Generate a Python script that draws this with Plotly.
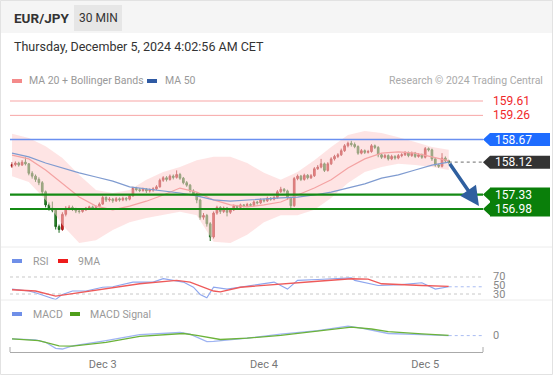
import plotly.graph_objects as go

# ---------------- data ----------------
first_open = 158.02
close = [158.06, 158.10, 158.05, 158.12, 158.08, 157.85, 157.78, 157.70, 157.62, 157.40,
         157.08, 157.00, 156.95, 156.55, 156.48, 156.85, 157.00, 157.02, 156.98, 156.93,
         156.92, 156.96, 157.00, 157.03, 157.01, 157.04, 157.10, 157.26, 157.20, 157.22,
         157.18, 157.23, 157.20, 157.24, 157.22, 157.30, 157.48, 157.45, 157.43, 157.46,
         157.42, 157.44, 157.47, 157.52, 157.68, 157.74, 157.70, 157.78, 157.75, 157.82,
         157.73, 157.62, 157.56, 157.42, 157.35, 157.20, 156.78, 156.82, 156.62, 156.30,
         156.88, 157.02, 156.92, 157.00, 156.90, 156.96, 157.05, 157.02, 157.08, 157.06,
         157.09, 157.07, 157.15, 157.13, 157.20, 157.18, 157.24, 157.22, 157.26, 157.40,
         157.46, 157.42, 157.25, 157.06, 157.72, 157.78, 157.70, 157.80, 157.74, 157.79,
         157.96, 158.00, 158.08, 157.92, 158.08, 158.20, 158.26, 158.30, 158.40, 158.52,
         158.58, 158.55, 158.50, 158.34, 158.40, 158.36, 158.38, 158.52, 158.48, 158.30,
         158.24, 158.28, 158.20, 158.26, 158.22, 158.28, 158.30, 158.35, 158.28, 158.34,
         158.26, 158.30, 158.24, 158.45, 158.42, 158.20, 158.05, 158.02, 158.22, 158.15,
         158.12]
high = [158.12, 158.14, 158.13, 158.17, 158.24, 158.10, 157.90, 157.82, 157.75, 157.66,
        157.43, 157.14, 157.16, 156.98, 156.60, 156.90, 157.05, 157.07, 157.06, 157.01,
        156.97, 157.00, 157.03, 157.06, 157.06, 157.07, 157.14, 157.30, 157.29, 157.27,
        157.25, 157.27, 157.26, 157.28, 157.27, 157.34, 157.52, 157.52, 157.49, 157.50,
        157.49, 157.48, 157.51, 157.56, 157.72, 157.78, 157.78, 157.82, 157.82, 157.92,
        157.86, 157.76, 157.66, 157.59, 157.46, 157.38, 157.23, 156.88, 156.86, 156.66,
        156.92, 157.06, 157.05, 157.04, 157.03, 157.00, 157.09, 157.08, 157.11, 157.10,
        157.13, 157.12, 157.19, 157.18, 157.24, 157.23, 157.28, 157.27, 157.30, 157.44,
        157.52, 157.49, 157.45, 157.28, 157.76, 157.82, 157.81, 157.84, 157.83, 157.83,
        158.00, 158.05, 158.20, 158.11, 158.12, 158.24, 158.30, 158.34, 158.45, 158.56,
        158.62, 158.64, 158.60, 158.53, 158.44, 158.43, 158.42, 158.56, 158.55, 158.51,
        158.33, 158.32, 158.31, 158.30, 158.29, 158.32, 158.34, 158.39, 158.38, 158.38,
        158.37, 158.34, 158.33, 158.49, 158.48, 158.45, 158.23, 158.08, 158.34, 158.26,
        158.18]
low = [157.98, 158.02, 158.01, 158.03, 158.04, 157.80, 157.72, 157.64, 157.56, 157.34,
       157.02, 156.94, 156.90, 156.48, 156.40, 156.45, 156.80, 156.95, 156.93, 156.88,
       156.87, 156.89, 156.93, 156.97, 156.97, 156.98, 157.02, 157.08, 157.15, 157.16,
       157.13, 157.15, 157.16, 157.17, 157.17, 157.19, 157.28, 157.41, 157.39, 157.40,
       157.37, 157.38, 157.40, 157.44, 157.50, 157.64, 157.65, 157.67, 157.70, 157.72,
       157.69, 157.58, 157.52, 157.38, 157.30, 157.12, 156.72, 156.72, 156.55, 156.20,
       156.26, 156.84, 156.86, 156.88, 156.80, 156.86, 156.93, 156.98, 156.99, 157.02,
       157.03, 157.03, 157.04, 157.09, 157.10, 157.14, 157.15, 157.18, 157.19, 157.23,
       157.37, 157.38, 157.20, 156.98, 157.03, 157.68, 157.66, 157.67, 157.70, 157.71,
       157.76, 157.93, 157.97, 157.88, 157.89, 158.05, 158.16, 158.22, 158.27, 158.37,
       158.48, 158.50, 158.46, 158.30, 158.31, 158.32, 158.33, 158.35, 158.44, 158.24,
       158.20, 158.21, 158.16, 158.17, 158.18, 158.19, 158.24, 158.27, 158.24, 158.25,
       158.22, 158.23, 158.20, 158.21, 158.38, 158.15, 158.01, 157.98, 157.99, 158.11,
       158.08]
open_ = [first_open] + close[:-1]
candle_idx = list(range(len(close)))

ind_idx = list(range(0, 131, 5))
ma50 = [158.34, 158.25, 158.10, 157.98, 157.86, 157.76, 157.66, 157.52, 157.47, 157.42,
        157.37, 157.30, 157.20, 157.17, 157.20, 157.22, 157.25, 157.27, 157.32, 157.39,
        157.49, 157.59, 157.73, 157.81, 157.93, 158.05, 158.12]
ma20 = [158.29, 158.20, 157.93, 157.61, 157.27, 157.05, 156.96, 157.05, 157.17, 157.32,
        157.49, 157.39, 157.20, 157.08, 157.03, 157.08, 157.15, 157.32, 157.49, 157.69,
        157.98, 158.20, 158.34, 158.37, 158.34, 158.25, 158.15]
bb_upper = [158.81, 158.71, 158.51, 158.22, 157.81, 157.44, 157.37, 157.44, 157.69, 157.88,
            158.00, 158.17, 158.25, 158.25, 158.10, 157.86, 157.69, 157.88, 158.17, 158.49,
            158.78, 158.88, 158.83, 158.73, 158.61, 158.49, 158.42]
bb_lower = [157.78, 157.64, 157.20, 156.59, 156.15, 156.22, 156.47, 156.66, 156.76, 156.83,
            156.91, 156.83, 156.18, 156.15, 156.35, 156.66, 156.83, 156.83, 156.96, 157.25,
            157.61, 157.88, 158.00, 158.08, 158.05, 158.00, 157.93]

rsi_idx = [0, 5, 7, 10, 13, 15, 18, 22, 27, 30, 36, 42, 45, 48, 51, 54, 56, 58, 60, 64,
           72, 78, 82, 85, 91, 98, 101, 102, 109, 116, 122, 126, 130]
rsi = [41.5, 37, 33, 25, 17, 29, 37, 37, 46, 47, 58, 58, 66, 62, 58, 46, 29, 21, 46, 41.5,
       50, 58, 41.5, 62, 64, 68, 68, 62, 50, 52, 56.5, 41.5, 47]
rsi9_idx = [0, 7, 13, 22, 28, 38, 49, 53, 60, 62, 68, 78, 91, 101, 106, 110, 116, 122, 130]
rsi9 = [40, 37, 25, 35, 41.5, 54, 62, 58, 37, 35, 46, 51.5, 60, 66, 65, 54, 51.5, 50, 48]

macd_idx = [0, 7, 10, 13, 15, 18, 28, 38, 50, 53, 58, 60, 70, 80, 91, 100, 104, 112, 122, 130]
macd = [-0.032, -0.043, -0.067, -0.127, -0.134, -0.103, -0.05, 0.01, 0.031, 0.014,
        -0.06, -0.057, -0.025, 0.014, 0.049, 0.095, 0.074, 0.021, 0.01, 0.0]
sig_idx = [0, 8, 14, 18, 28, 38, 51, 55, 62, 70, 80, 91, 101, 107, 112, 122, 130]
signal = [-0.032, -0.05, -0.103, -0.106, -0.067, -0.007, 0.021, 0.003, -0.039, -0.025,
          0.003, 0.046, 0.084, 0.066, 0.039, 0.017, 0.003]

resistances = [159.61, 159.26]
pivot = 158.67
last_price = 158.12
supports = [157.33, 156.98]
target_price = 157.05
target_idx = 139

tick_idx = [27, 75, 123]
tick_labels = ["Dec 3", "Dec 4", "Dec 5"]
rsi_levels = [70, 50, 30]

# ---------------- layout helpers ----------------
W, H = 553, 375
def px(x):
    return x / W
def py(y):
    return 1 - y / H

X_RANGE = [-0.6, 140.2]
XDOM = [px(10), px(483)]
PRICE_PER_PX = 1 / 41.06

FONT = "Roboto, Arial, sans-serif"

fig = go.Figure()

# Bollinger band fill
fig.add_trace(go.Scatter(x=ind_idx, y=bb_upper, mode="lines", line=dict(color="rgba(0,0,0,0)", width=0),
                         hoverinfo="skip", showlegend=False, xaxis="x", yaxis="y"))
fig.add_trace(go.Scatter(x=ind_idx, y=bb_lower, mode="lines", line=dict(color="rgba(0,0,0,0)", width=0),
                         fill="tonexty", fillcolor="rgba(253,205,205,0.55)",
                         hoverinfo="skip", showlegend=False, xaxis="x", yaxis="y"))
fig.add_trace(go.Scatter(x=ind_idx, y=ma20, mode="lines", line=dict(color="#f4a3a3", width=1.2),
                         showlegend=False, xaxis="x", yaxis="y"))
fig.add_trace(go.Scatter(x=ind_idx, y=ma50, mode="lines", line=dict(color="#7f9bd0", width=1.2),
                         showlegend=False, xaxis="x", yaxis="y"))

# last price dotted extension
fig.add_trace(go.Scatter(x=[candle_idx[-1], X_RANGE[1]], y=[last_price, last_price], mode="lines",
                         line=dict(color="#8a8a8a", width=1.3, dash="dot"), showlegend=False,
                         xaxis="x", yaxis="y"))

fig.add_trace(go.Candlestick(
    x=candle_idx, open=open_, high=high, low=low, close=close,
    increasing=dict(line=dict(color="#a01818", width=1), fillcolor="#e32222"),
    decreasing=dict(line=dict(color="#1d6a1d", width=1), fillcolor="#2e8b2e"),
    whiskerwidth=0, showlegend=False, xaxis="x", yaxis="y"))

# RSI panel
fig.add_trace(go.Scatter(x=[X_RANGE[0], X_RANGE[1]], y=[70, 70], mode="lines",
                         line=dict(color="#c8c8c8", width=1, dash="dot"), showlegend=False,
                         xaxis="x2", yaxis="y2"))
fig.add_trace(go.Scatter(x=[X_RANGE[0], X_RANGE[1]], y=[30, 30], mode="lines",
                         line=dict(color="#c8c8c8", width=1, dash="dot"), showlegend=False,
                         xaxis="x2", yaxis="y2"))
fig.add_trace(go.Scatter(x=rsi_idx, y=rsi, mode="lines", line=dict(color="#8ea6ee", width=1.1),
                         showlegend=False, xaxis="x2", yaxis="y2"))
fig.add_trace(go.Scatter(x=rsi9_idx, y=rsi9, mode="lines", line=dict(color="#ee5a5a", width=1.4),
                         showlegend=False, xaxis="x2", yaxis="y2"))
fig.add_trace(go.Scatter(x=[rsi_idx[-1], X_RANGE[1]], y=[rsi[-1], rsi[-1]], mode="lines",
                         line=dict(color="#a9bcf2", width=1, dash="dot"), showlegend=False,
                         xaxis="x2", yaxis="y2"))

# MACD panel
fig.add_trace(go.Scatter(x=macd_idx, y=macd, mode="lines", line=dict(color="#9fb4f2", width=1.3),
                         showlegend=False, xaxis="x3", yaxis="y3"))
fig.add_trace(go.Scatter(x=sig_idx, y=signal, mode="lines", line=dict(color="#6cb33a", width=1.3),
                         showlegend=False, xaxis="x3", yaxis="y3"))
fig.add_trace(go.Scatter(x=[macd_idx[-1], X_RANGE[1]], y=[macd[-1], macd[-1]], mode="lines",
                         line=dict(color="#a9bcf2", width=1, dash="dot"), showlegend=False,
                         xaxis="x3", yaxis="y3"))

shapes = []
annotations = []

# header band
shapes.append(dict(type="rect", xref="paper", yref="paper", x0=0, x1=1, y0=py(33), y1=1,
                   fillcolor="#f5f5f5", line=dict(width=0), layer="below"))
shapes.append(dict(type="rect", xref="paper", yref="paper", x0=px(74), x1=px(122), y0=py(31), y1=py(5),
                   fillcolor="#e6e6e6", line=dict(width=0), layer="below"))
# separators
for yy in [247, 300]:
    shapes.append(dict(type="line", xref="paper", yref="paper", x0=0, x1=1, y0=py(yy), y1=py(yy),
                       line=dict(color="#ececec", width=1)))
shapes.append(dict(type="rect", xref="paper", yref="paper", x0=px(0.5), x1=px(552.5), y0=py(374.5), y1=py(0.5),
                   line=dict(color="#e2e2e2", width=1)))

# level lines
for r in resistances:
    shapes.append(dict(type="line", xref="paper", yref="y", x0=XDOM[0], x1=XDOM[1], y0=r, y1=r,
                       line=dict(color="#f7a5a5", width=1)))
    annotations.append(dict(x=px(491), y=r, xref="paper", yref="y", text=f"{r:.2f}", showarrow=False,
                            xanchor="left", yanchor="middle", font=dict(color="#f0282a", size=12, family=FONT)))
shapes.append(dict(type="line", xref="paper", yref="y", x0=XDOM[0], x1=XDOM[1], y0=pivot, y1=pivot,
                   line=dict(color="#6a8ff0", width=1.5)))
for s in supports:
    shapes.append(dict(type="line", xref="paper", yref="y", x0=XDOM[0], x1=XDOM[1], y0=s, y1=s,
                       line=dict(color="#148a14", width=2.2)))

def tag_path(p, half_px=6.5):
    h = half_px * PRICE_PER_PX
    tip, body, right = px(483), px(490), px(550)
    return (f"M {tip},{p} L {body},{p + h} L {right},{p + h} L {right},{p - h} "
            f"L {body},{p - h} Z")

shapes.append(dict(type="path", xref="paper", yref="y", path=tag_path(pivot),
                   fillcolor="#1e6cff", line=dict(width=0)))
shapes.append(dict(type="path", xref="paper", yref="y", path=tag_path(last_price),
                   fillcolor="#333333", line=dict(width=0)))
h = 6.5 * PRICE_PER_PX
top = supports[0] + 7 * PRICE_PER_PX
bot = supports[1] - 7.5 * PRICE_PER_PX
tip, body, right = px(483), px(490), px(550)
p1, p2 = supports
green_path = (f"M {body},{top} L {right},{top} L {right},{bot} L {body},{bot} "
              f"L {body},{p2 - h} L {tip},{p2} L {body},{p2 + h} "
              f"L {body},{p1 - h} L {tip},{p1} L {body},{p1 + h} Z")
shapes.append(dict(type="path", xref="paper", yref="y", path=green_path,
                   fillcolor="#0a7f0a", line=dict(width=0)))
for val in [pivot, last_price] + supports:
    annotations.append(dict(x=px(493), y=val, xref="paper", yref="y", text=f"{val:.2f}", showarrow=False,
                            xanchor="left", yanchor="middle", font=dict(color="white", size=12, family=FONT)))

# forecast arrow
annotations.append(dict(x=target_idx, y=target_price, ax=candle_idx[-1], ay=last_price,
                        xref="x", yref="y", axref="x", ayref="y", text="", showarrow=True,
                        arrowhead=2, arrowsize=1.1, arrowwidth=3.5, arrowcolor="#2f5f9f"))

# RSI level labels
for lv in rsi_levels:
    annotations.append(dict(x=px(491), y=lv, xref="paper", yref="y2", text=str(lv), showarrow=False,
                            xanchor="left", yanchor="middle", font=dict(color="#888", size=11, family=FONT)))
annotations.append(dict(x=px(491), y=0, xref="paper", yref="y3", text="0", showarrow=False,
                        xanchor="left", yanchor="middle", font=dict(color="#888", size=11, family=FONT)))

# bottom axis end ticks
for xx in [10, 483]:
    shapes.append(dict(type="line", xref="paper", yref="paper", x0=px(xx), x1=px(xx), y0=py(352), y1=py(347),
                       line=dict(color="#aaaaaa", width=1)))

# header texts
annotations += [
    dict(x=px(12), y=py(18), xref="paper", yref="paper", text="<b>EUR/JPY</b>", showarrow=False,
         xanchor="left", yanchor="middle", font=dict(color="#333", size=13.5, family=FONT)),
    dict(x=px(98), y=py(18), xref="paper", yref="paper", text="30 MIN", showarrow=False,
         xanchor="center", yanchor="middle", font=dict(color="#333", size=12, family=FONT)),
    dict(x=px(12), y=py(46), xref="paper", yref="paper", text="Thursday, December 5, 2024 4:02:56 AM CET",
         showarrow=False, xanchor="left", yanchor="middle", font=dict(color="#333", size=12.5, family=FONT)),
    dict(x=px(545), y=py(81), xref="paper", yref="paper", text="Research © 2024 Trading Central",
         showarrow=False, xanchor="right", yanchor="middle", font=dict(color="#aaa", size=10.5, family=FONT)),
]

def legend_item(x_rect, x_text, y, color, label):
    shapes.append(dict(type="rect", xref="paper", yref="paper", x0=px(x_rect), x1=px(x_rect + 10),
                       y0=py(y + 2), y1=py(y - 2), fillcolor=color, line=dict(width=0)))
    annotations.append(dict(x=px(x_text), y=py(y), xref="paper", yref="paper", text=label, showarrow=False,
                            xanchor="left", yanchor="middle", font=dict(color="#999", size=10.5, family=FONT)))

legend_item(12, 27, 81, "#f48a8a", "MA 20 + Bollinger Bands")
legend_item(147, 163, 81, "#2f5aa3", "MA 50")
legend_item(12, 31, 261, "#6f8fe8", "RSI")
legend_item(58, 76, 261, "#ee1c1c", "9MA")
legend_item(12, 31, 314, "#6f8fe8", "MACD")
legend_item(70, 88, 314, "#4f9e1a", "MACD Signal")

hidden_x = dict(domain=XDOM, range=X_RANGE, showticklabels=False, showgrid=False, zeroline=False,
                showline=False, ticks="", fixedrange=True)
fig.update_layout(
    width=W, height=H, margin=dict(l=0, r=0, t=0, b=0),
    paper_bgcolor="white", plot_bgcolor="rgba(0,0,0,0)",
    font=dict(family=FONT),
    showlegend=False,
    xaxis=dict(hidden_x, anchor="y", rangeslider=dict(visible=False)),
    yaxis=dict(domain=[py(246), py(92)], range=[159.61 - 145 * PRICE_PER_PX, 159.61 + 9 * PRICE_PER_PX],
               visible=False, fixedrange=True),
    xaxis2=dict(hidden_x, anchor="y2"),
    yaxis2=dict(domain=[py(300), py(265)], range=[15.9, 98.2], visible=False),
    xaxis3=dict(domain=XDOM, range=X_RANGE, anchor="y3", showgrid=False, zeroline=False,
                showline=True, linecolor="#aaaaaa", linewidth=1, ticks="outside", ticklen=2,
                tickcolor="rgba(0,0,0,0)", tickvals=tick_idx, ticktext=tick_labels,
                tickfont=dict(color="#777", size=11, family=FONT)),
    yaxis3=dict(domain=[py(352), py(318)], range=[-0.164, 0.176], visible=False),
    shapes=shapes, annotations=annotations,
)

fig.write_html("out.html", config={"displayModeBar": False},
               post_script="document.body.style.margin='0px';document.body.style.overflow='hidden';")
